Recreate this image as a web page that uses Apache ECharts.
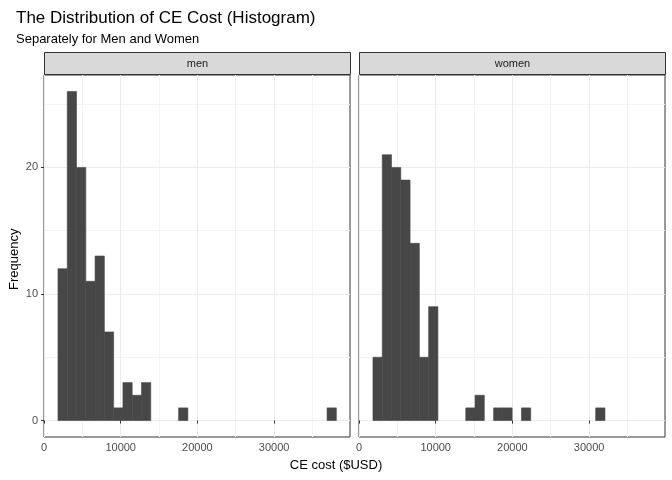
<!DOCTYPE html>
<html><head><meta charset="utf-8">
<script src="https://cdn.jsdelivr.net/npm/echarts@6/dist/echarts.min.js"></script>
<style>html,body{margin:0;background:#fff}#c{width:672px;height:480px}</style>
</head><body><div id="c"></div>
<script>
const binStart = 1820;
const binWidth = 1210;
const menCounts = [12,26,20,11,13,7,1,3,2,3,0,0,0,1,0,0,0,0,0,0,0,0,0,0,0,0,0,0,0,1];
const womenCounts = [5,21,20,19,14,5,9,0,0,0,1,2,0,1,1,0,1,0,0,0,0,0,0,0,1,0,0,0,0,0];
const panels = ['men', 'women'];
const xTicks = [0, 10000, 20000, 30000];
const yTicks = [0, 10, 20];

const chart = echarts.init(document.getElementById('c'));
const FONT = 'Liberation Sans, Arial, sans-serif';

function bins(counts) {
  return counts.map((c, i) => [binStart + i * binWidth, binStart + (i + 1) * binWidth, c]).filter(d => d[2] > 0);
}
const gridLine = (c) => ({ lineStyle: { color: c, width: 1, type: 'solid' } });
function gridMarks() {
  const data = [];
  [5000, 15000, 25000, 35000].forEach(v => data.push({ xAxis: v, ...gridLine('#f3f3f3') }));
  [5, 15, 25].forEach(v => data.push({ yAxis: v, ...gridLine('#f3f3f3') }));
  xTicks.forEach(v => data.push({ xAxis: v, ...gridLine('#ebebeb') }));
  yTicks.forEach(v => data.push({ yAxis: v, ...gridLine('#ebebeb') }));
  return { silent: true, symbol: 'none', label: { show: false }, animation: false, data, z: 0 };
}

const grids = [
  { left: 44, width: 306, top: 75, height: 362 },
  { left: 359, width: 306, top: 75, height: 362 }
].map(g => ({ ...g, show: true, borderColor: '#333', borderWidth: 1 }));

const xAxes = grids.map((g, i) => ({
  type: 'value', gridIndex: i, min: 0, max: 39900,
  splitLine: { show: false },
  axisLine: { show: false },
  axisTick: { show: true, customValues: xTicks, length: 3, lineStyle: { color: '#333' } },
  axisLabel: { customValues: xTicks, formatter: v => String(v), color: '#4d4d4d', fontSize: 11, fontFamily: FONT, margin: 5 }
}));
const yAxes = grids.map((g, i) => ({
  type: 'value', gridIndex: i, min: -1.3, max: 27.3,
  splitLine: { show: false },
  axisLine: { show: false },
  axisTick: { show: i === 0, customValues: yTicks, length: 3, lineStyle: { color: '#333' } },
  axisLabel: { show: i === 0, customValues: yTicks, color: '#4d4d4d', fontSize: 11, fontFamily: FONT, margin: 6 }
}));

const series = [menCounts, womenCounts].map((counts, i) => ({
  type: 'custom', xAxisIndex: i, yAxisIndex: i,
  data: bins(counts),
  renderItem: (params, api) => {
    const p0 = api.coord([api.value(0), 0]);
    const p1 = api.coord([api.value(1), api.value(2)]);
    return { type: 'rect', shape: { x: p0[0], y: p1[1], width: p1[0] - p0[0], height: p0[1] - p1[1] }, style: { fill: '#474747', stroke: '#474747', lineWidth: 0.6 } };
  },
  markLine: gridMarks(),
  z: 2
}));

const strips = panels.map((name, i) => ({
  type: 'group', left: grids[i].left, top: 52,
  children: [
    { type: 'rect', shape: { x: 0, y: 0, width: 306, height: 22 }, style: { fill: '#d9d9d9', stroke: '#333', lineWidth: 1 } },
    { type: 'text', x: 153, y: 11, style: { text: name, fill: '#1a1a1a', font: '11px ' + FONT, align: 'center', verticalAlign: 'middle' } }
  ]
}));

chart.setOption({
  animation: false,
  title: [
    { text: 'The Distribution of CE Cost (Histogram)', left: 11, top: 5, textStyle: { fontSize: 17, fontWeight: 'normal', color: '#000', fontFamily: FONT } },
    { text: 'Separately for Men and Women', left: 11, top: 28, textStyle: { fontSize: 13, fontWeight: 'normal', color: '#000', fontFamily: FONT } }
  ],
  grid: grids, xAxis: xAxes, yAxis: yAxes, series,
  graphic: [
    ...strips,
    { type: 'text', left: 'center', top: 459, style: { text: 'CE cost ($USD)', fill: '#000', font: '13px ' + FONT } },
    { type: 'text', x: 8, y: 290, rotation: Math.PI / 2, style: { text: 'Frequency', fill: '#000', font: '13px ' + FONT, align: 'left', verticalAlign: 'top' } }
  ]
});
</script></body></html>
